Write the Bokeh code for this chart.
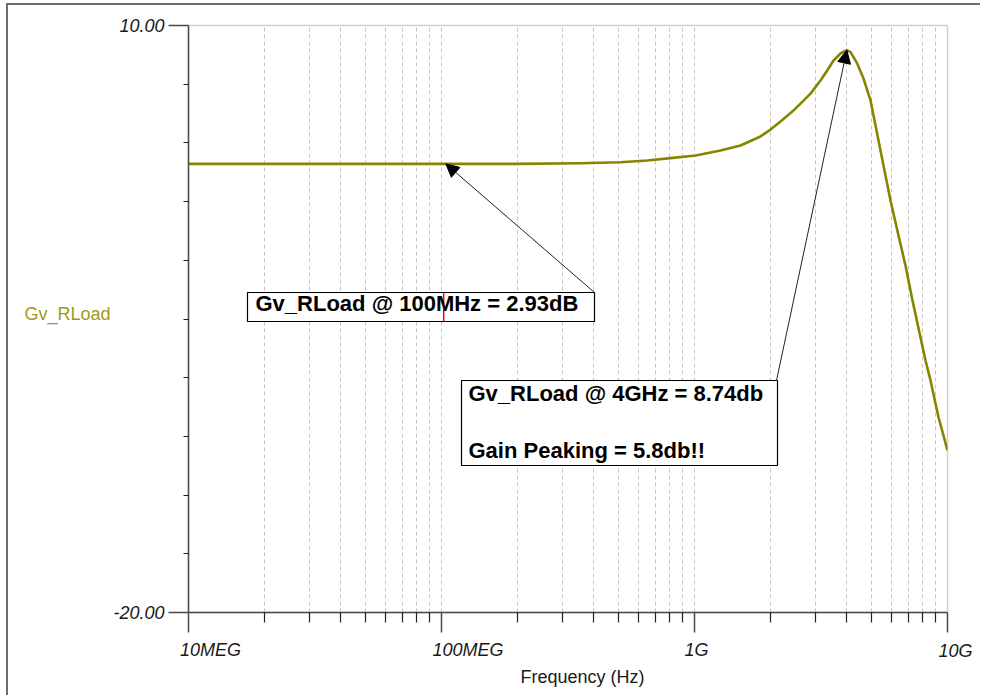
from bokeh.plotting import figure
from bokeh.models import (FixedTicker, PrintfTickFormatter, CustomJSTickFormatter, Label,
                          BoxAnnotation, Arrow, NormalHead, LogAxis)
from bokeh.embed import file_html
from bokeh.resources import INLINE

# ---- data ----
freq_hz = [1e7, 2e7, 5e7, 1e8, 2e8, 3.54e8, 5.1e8, 6.5e8, 8.04e8, 1.01e9, 1.267e9, 1.52e9,
           1.823e9, 1.997e9, 2.187e9, 2.462e9, 2.624e9, 2.874e9, 3.148e9, 3.346e9, 3.544e9,
           3.777e9, 4.0e9, 4.137e9, 4.397e9, 4.656e9, 4.963e9, 5.435e9, 5.952e9, 6.231e9,
           6.823e9, 7.273e9, 8.186e9, 8.568e9, 9.214e9, 1e10]
gain_db = [2.93, 2.93, 2.93, 2.93, 2.93, 2.96, 3.01, 3.10, 3.22, 3.36, 3.61, 3.87,
           4.33, 4.68, 5.09, 5.66, 6.01, 6.52, 7.19, 7.70, 8.21,
           8.57, 8.74, 8.64, 8.06, 7.29, 6.17, 3.61, 1.06, -0.07,
           -2.27, -4.05, -7.12, -8.14, -10.02, -11.72]

x_tick_values = [1e7, 1e8, 1e9, 1e10]
x_tick_labels = ["10MEG", "100MEG", "1G", "10G"]
x_minor_values = [m * d for d in (1e7, 1e8, 1e9) for m in range(2, 10)]
y_tick_values = [-20, 10]
y_minor_values = [-17, -14, -11, -8, -5, -2, 1, 4, 7]

marker_freqs = [1e8, 4e9]
marker_gains = [2.93, 8.74]
note_1 = "Gv_RLoad @ 100MHz = 2.93dB"
note_2a = "Gv_RLoad @ 4GHz = 8.74db"
note_2b = "Gain Peaking = 5.8db!!"
y_title = "Gv_RLoad"
x_title = "Frequency (Hz)"

# ---- layout helpers (page pixel -> data, for annotation placement) ----
FL, FR, FT, FB = 188, 947, 25, 612
PX_PER_DECADE = (FR - FL) / 3
def fx(px):
    return 1e7 * 10 ** ((px - FL) / PX_PER_DECADE)
def fy(py):
    return 10 - (py - FT) / (FB - FT) * 30

FONT = "Liberation Sans"
OLIVE = "#858500"
AX = "#4a4a4a"

p = figure(width=974, height=692, x_axis_type="log", x_range=(1e7, 1e10), y_range=(-20, 10),
           output_backend="svg", toolbar_location=None,
           min_border_left=180, min_border_top=20, min_border_right=35, min_border_bottom=85)
p.styles = {"margin-left": "6px", "margin-top": "3px",
            "border-left": "2px solid #6e6e6e", "border-top": "2px solid #6e6e6e"}
p.background_fill_color = "white"
p.border_fill_color = "white"
p.outline_line_color = "#cfcfcf"
p.outline_line_width = 1.5

xt = FixedTicker(ticks=x_tick_values, minor_ticks=x_minor_values)
yt = FixedTicker(ticks=y_tick_values, minor_ticks=y_minor_values)

p.xaxis.ticker = xt
p.xgrid.ticker = xt
p.xaxis.formatter = CustomJSTickFormatter(code="return ''")
p.xaxis.major_label_standoff = 0
p.xaxis.major_tick_out = 20
p.xaxis.major_tick_in = 0
p.xaxis.minor_tick_out = 10
p.xaxis.minor_tick_in = 0
p.xaxis.axis_line_color = AX
p.xaxis.axis_line_width = 1.5
p.xaxis.major_tick_line_color = AX
p.xaxis.major_tick_line_width = 1.5
p.xaxis.minor_tick_line_color = "#222222"
p.xaxis.minor_tick_line_width = 1.2

# second bottom axis that only carries the tick labels (the reference draws them
# starting just left of each tick, i.e. their centres sit right of the ticks)
label_shift_px = [22, 26.5, 2]
label_axis = LogAxis(
    ticker=FixedTicker(ticks=[v * 10 ** (s / PX_PER_DECADE)
                              for v, s in zip(x_tick_values[:3], label_shift_px)],
                       minor_ticks=[]),
    formatter=CustomJSTickFormatter(args=dict(labels=x_tick_labels[:3]),
                                    code="return labels[index]"),
    major_tick_out=0, major_tick_in=0, minor_tick_out=0, minor_tick_in=0,
    axis_line_color=None, major_tick_line_color=None, minor_tick_line_color=None,
    major_label_standoff=7, major_label_text_font=FONT,
    major_label_text_font_style="italic", major_label_text_font_size="18px",
    major_label_text_color="#1a1a1a")
p.add_layout(label_axis, "below")

p.yaxis.ticker = yt
p.yaxis.formatter = PrintfTickFormatter(format="%.2f")
p.yaxis.major_tick_out = 20
p.yaxis.major_tick_in = 0
p.yaxis.minor_tick_out = 5
p.yaxis.minor_tick_in = 0
p.yaxis.major_label_standoff = 4
p.yaxis.major_label_text_font = FONT
p.yaxis.major_label_text_font_style = "italic"
p.yaxis.major_label_text_font_size = "18px"
p.yaxis.major_label_text_color = "#1a1a1a"
p.yaxis.axis_line_color = AX
p.yaxis.axis_line_width = 1.5
p.yaxis.major_tick_line_color = AX
p.yaxis.major_tick_line_width = 1.5
p.yaxis.minor_tick_line_color = "#222222"
p.yaxis.minor_tick_line_width = 1.2

p.xgrid.grid_line_color = "#c4c4c4"
p.xgrid.grid_line_dash = "4 3"
p.xgrid.minor_grid_line_color = "#c4c4c4"
p.xgrid.minor_grid_line_dash = "4 3"
p.ygrid.visible = False

p.line(freq_hz, gain_db, line_color=OLIVE, line_width=2.6, line_join="round")

# texts outside the frame: labels placed in side panels (not clipped to the frame)
p.add_layout(Label(x=x_tick_values[3], y=fy(650), x_offset=-9, text=x_tick_labels[3],
                   text_align="left", text_baseline="middle", text_font=FONT,
                   text_font_style="italic", text_font_size="18px", text_color="#1a1a1a"),
             "right")
p.add_layout(Label(x=fx(520), y=fy(676), text=x_title, text_align="left", text_baseline="middle",
                   text_font=FONT, text_font_size="18px", text_color="#1a1a1a"), "below")
p.add_layout(Label(x=fx(24), y=fy(313), text=y_title, text_align="left", text_baseline="middle",
                   text_font=FONT, text_font_size="18px", text_color="#a09a18"), "left")

# annotation boxes
box1 = BoxAnnotation(left=fx(247), right=fx(594), top=fy(292), bottom=fy(321),
                     fill_color="white", fill_alpha=1, line_color="black", line_alpha=1,
                     line_width=1.2)
box2 = BoxAnnotation(left=fx(461), right=fx(777), top=fy(380), bottom=fy(465),
                     fill_color="white", fill_alpha=1, line_color="black", line_alpha=1,
                     line_width=1.2)
p.add_layout(box1)
p.add_layout(box2)

cursor = p.segment(x0=[marker_freqs[0] * 1.02], y0=[fy(292)], x1=[marker_freqs[0] * 1.02],
                   y1=[fy(321)], line_color="red", line_width=1.5)
cursor.level = "overlay"

for txt, px, py in [(note_1, 255, 303), (note_2a, 468, 392.5), (note_2b, 468, 450)]:
    lab = Label(x=fx(px), y=fy(py), text=txt, text_align="left", text_baseline="middle",
                text_font=FONT, text_font_style="bold", text_font_size="22px", text_color="black")
    lab.level = "overlay"
    p.add_layout(lab)

head = dict(size=13, fill_color="black", line_color="black", line_width=1)
p.add_layout(Arrow(end=NormalHead(**head), x_start=fx(594), y_start=fy(292),
                   x_end=marker_freqs[0] * 1.04, y_end=marker_gains[0],
                   line_color="#222222", line_width=1))
p.add_layout(Arrow(end=NormalHead(**head), x_start=fx(776), y_start=fy(380),
                   x_end=marker_freqs[1], y_end=marker_gains[1],
                   line_color="#222222", line_width=1))

open("out.html", "w").write(file_html(p, INLINE))
